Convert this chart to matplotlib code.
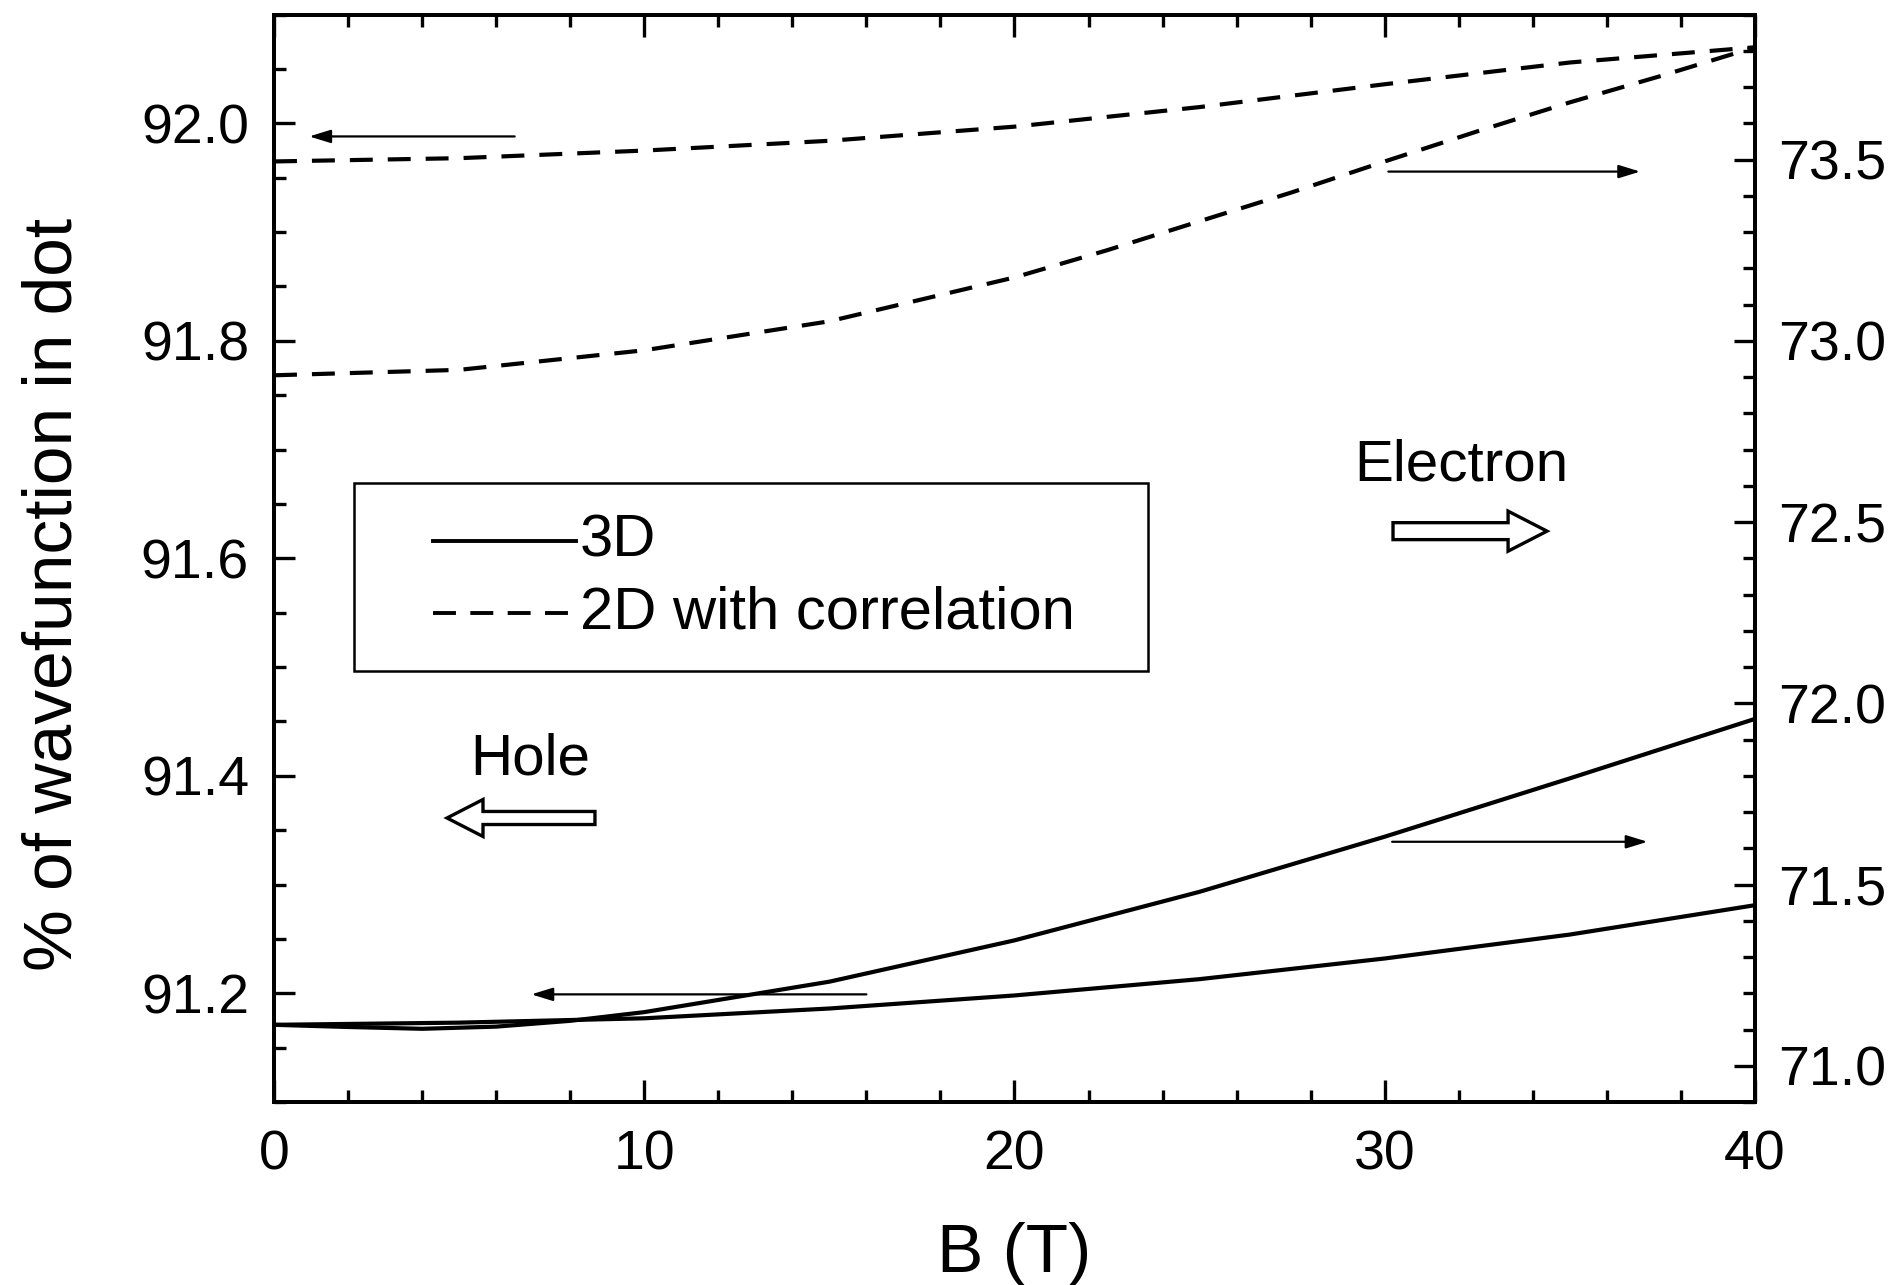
import matplotlib
matplotlib.use("Agg")
import matplotlib.pyplot as plt
from matplotlib.patches import FancyArrow, Rectangle
from matplotlib.lines import Line2D
from matplotlib.ticker import MultipleLocator, FormatStrFormatter

plt.rcParams['font.family'] = ['Liberation Sans', 'DejaVu Sans']

# Magnetic field values (T)
B_2d_h = [0, 5, 10, 15, 20, 25, 30, 35, 40]
B_2d_e = [0, 5, 10, 15, 20, 22.5, 25, 27.5, 30, 32.5, 35, 37.5, 40]
B_3d_e = [0, 2, 4, 6, 8, 10, 12.5, 15, 20, 25, 30, 35, 40]
B_3d_h = [0, 5, 10, 15, 20, 25, 30, 35, 40]

# Hole (left axis, %)
hole_2d = [91.965, 91.968, 91.975, 91.984, 91.997, 92.015, 92.036, 92.056, 92.070]
hole_3d = [91.171, 91.173, 91.177, 91.186, 91.198, 91.213, 91.232, 91.254, 91.281]

# Electron (right axis, %)
elec_2d = [72.905, 72.92, 72.974, 73.054, 73.175, 73.25, 73.33, 73.41, 73.495,
           73.578, 73.658, 73.732, 73.81]
elec_3d = [71.113, 71.107, 71.102, 71.108, 71.124, 71.148, 71.19, 71.232,
           71.346, 71.48, 71.632, 71.793, 71.957]

lw = 3.0
dash = (0, (5.5, 3.6))

fig = plt.figure(figsize=(19.03, 12.85), dpi=100)
ax = fig.add_axes([0.144, 0.1424, 0.9222 - 0.144, 0.9886 - 0.1424])
ax2 = ax.twinx()

ax.plot(B_2d_h, hole_2d, color='black', lw=lw, linestyle=dash)
ax.plot(B_3d_h, hole_3d, color='black', lw=lw)
ax2.plot(B_2d_e, elec_2d, color='black', lw=lw, linestyle=dash)
ax2.plot(B_3d_e, elec_3d, color='black', lw=lw)

ax.set_xlim(0, 40)
ax.set_ylim(91.1, 92.1)
ax2.set_ylim(70.9, 73.9)

ax.xaxis.set_major_locator(MultipleLocator(10))
ax.xaxis.set_minor_locator(MultipleLocator(2))
ax.yaxis.set_major_locator(MultipleLocator(0.2))
ax.yaxis.set_minor_locator(MultipleLocator(0.05))
ax2.yaxis.set_major_locator(MultipleLocator(0.5))
ax2.yaxis.set_minor_locator(MultipleLocator(0.1))
ax.yaxis.set_major_formatter(FormatStrFormatter('%.1f'))
ax2.yaxis.set_major_formatter(FormatStrFormatter('%.1f'))

for a in (ax, ax2):
    for s in a.spines.values():
        s.set_linewidth(2.8)
ax.tick_params(axis='x', which='both', direction='in', top=True, width=2.4, labelsize=40, pad=20)
ax.tick_params(axis='x', which='major', length=16)
ax.tick_params(axis='x', which='minor', length=8.5)
ax.tick_params(axis='y', which='both', direction='in', width=2.4, labelsize=40, pad=18)
ax.tick_params(axis='y', which='major', length=15)
ax.tick_params(axis='y', which='minor', length=8.5)
ax2.tick_params(axis='y', which='both', direction='in', width=2.4, labelsize=40, pad=17)
ax2.tick_params(axis='y', which='major', length=15)
ax2.tick_params(axis='y', which='minor', length=8.5)

ax.set_xlabel('B (T)', fontsize=50, labelpad=29)
ax.set_ylabel('% of wavefunction in dot', fontsize=50, labelpad=40)
ax.yaxis.label.set_y(0.467)

# thin arrows pointing to the relevant axis
arr = dict(arrowstyle='-|>,head_length=0.65,head_width=0.2', color='black',
           lw=1.6, shrinkA=0, shrinkB=0, mutation_scale=20)
ax.annotate('', xy=(0.95, 91.988), xytext=(6.5, 91.988), arrowprops=arr)
ax.annotate('', xy=(6.95, 91.199), xytext=(16.0, 91.199), arrowprops=arr)
ax2.annotate('', xy=(36.9, 73.467), xytext=(30.1, 73.467), arrowprops=arr)
ax2.annotate('', xy=(37.1, 71.618), xytext=(30.2, 71.618), arrowprops=arr)

# hollow block arrows with labels
ax.add_patch(FancyArrow(0.7556, 0.525, 0.104, 0, width=0.0156, head_width=0.0368,
                        head_length=0.0263, length_includes_head=True,
                        transform=ax.transAxes, facecolor='white', edgecolor='black', lw=2.4))
ax.text(0.802, 0.585, 'Electron', transform=ax.transAxes, fontsize=42,
        ha='center', va='center')
ax.add_patch(FancyArrow(0.2167, 0.2612, -0.0999, 0, width=0.012, head_width=0.034,
                        head_length=0.0243, length_includes_head=True,
                        transform=ax.transAxes, facecolor='white', edgecolor='black', lw=2.4))
ax.text(0.173, 0.315, 'Hole', transform=ax.transAxes, fontsize=42,
        ha='center', va='center')

# legend box
ax.add_patch(Rectangle((0.054, 0.396), 0.536, 0.173, transform=ax.transAxes,
                       facecolor='none', edgecolor='black', lw=1.8))
ax.add_line(Line2D([0.1074, 0.2039], [0.516, 0.516], transform=ax.transAxes,
                   color='black', lw=2.8))
ax.add_line(Line2D([0.1074, 0.2039], [0.4497, 0.4497], transform=ax.transAxes,
                   color='black', lw=2.8, linestyle=(0, (5.9, 3.7))))
ax.text(0.2066, 0.516, '3D', transform=ax.transAxes, fontsize=43, va='center')
ax.text(0.2066, 0.4497, '2D with correlation', transform=ax.transAxes, fontsize=43,
        va='center')

fig.savefig('out.png', dpi=100)
